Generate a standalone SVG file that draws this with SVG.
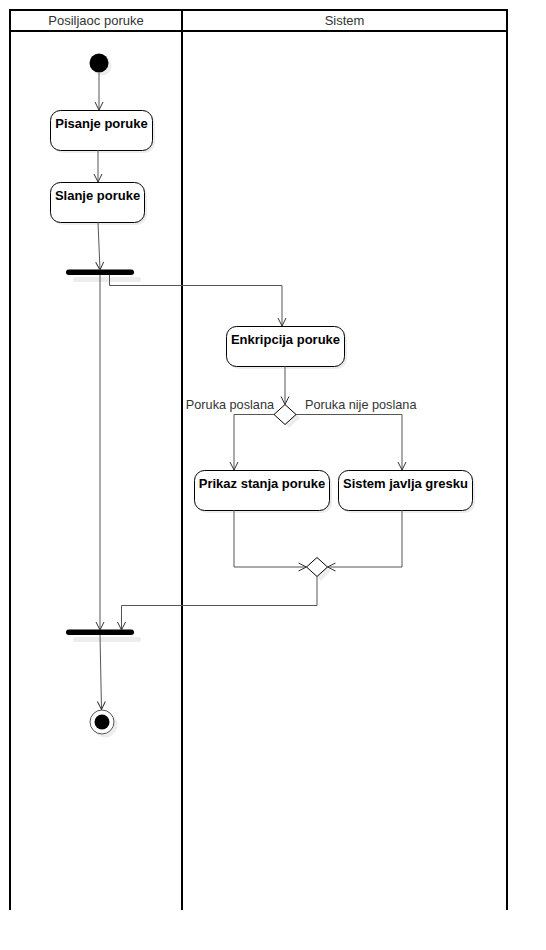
<svg xmlns="http://www.w3.org/2000/svg" width="546" height="950" viewBox="0 0 546 950">
<defs>
<marker id="open" viewBox="0 0 10 10" refX="9" refY="5" markerWidth="10" markerHeight="10" markerUnits="userSpaceOnUse" orient="auto">
<path d="M1,1 L9,5 L1,9" fill="none" stroke="#333" stroke-width="1"/>
</marker>
</defs>
<style>
.lane{stroke:#000;stroke-width:2;fill:none}
.hdr{font-family:"Liberation Sans",Arial,sans-serif;font-size:13px;fill:#333;text-anchor:middle}
.box{fill:#fff;stroke:#000;stroke-width:1}
.shadow{fill:#000;opacity:0.07}
.lbl{font-family:"Liberation Sans",Arial,sans-serif;font-size:13px;font-weight:bold;fill:#000;text-anchor:middle}
.glbl{font-family:"Liberation Sans",Arial,sans-serif;font-size:12.7px;fill:#333}
.edge{fill:none;stroke:#555;stroke-width:1}
.bar{fill:#000}
</style>
<g id="lanes">
<line class="lane" x1="9" y1="10" x2="508" y2="10"/>
<line class="lane" x1="10" y1="31" x2="507" y2="31"/>
<line class="lane" x1="10" y1="9" x2="10" y2="910"/>
<line class="lane" x1="182" y1="9" x2="182" y2="910" stroke-width="3"/>
<line class="lane" x1="507" y1="9" x2="507" y2="910"/>
<text class="hdr" x="96" y="25">Posiljaoc poruke</text>
<text class="hdr" x="344.5" y="25">Sistem</text>
</g>
<g id="start">
<circle class="shadow" cx="102" cy="66" r="9.5"/>
<circle cx="99" cy="63" r="9.5" fill="#000"/>
</g>
<g id="pisanje">
<rect class="shadow" x="53" y="113" width="102" height="40" rx="10"/>
<rect class="box" x="50.5" y="110.5" width="102" height="40" rx="10"/>
<text class="lbl" x="101.5" y="128">Pisanje poruke</text>
</g>
<g id="slanje">
<rect class="shadow" x="53" y="185" width="94" height="40" rx="10"/>
<rect class="box" x="50.5" y="182.5" width="94" height="40" rx="10"/>
<text class="lbl" x="97.5" y="200">Slanje poruke</text>
</g>
<g id="fork">
<rect class="shadow" x="73" y="277" width="68" height="5" rx="2.5"/>
<rect class="bar" x="66" y="269.5" width="68" height="5.5" rx="2.75"/>
</g>
<g id="enkripcija">
<rect class="shadow" x="229" y="329" width="118" height="40" rx="10"/>
<rect class="box" x="226.5" y="326.5" width="118" height="40" rx="10"/>
<text class="lbl" x="285.5" y="344">Enkripcija poruke</text>
</g>
<g id="decision">
<path class="shadow" d="M289,408 L300,418 L289,428 L278,418 Z"/>
<path d="M285,404.5 L296,414.5 L285,424.5 L274,414.5 Z" fill="#fff" stroke="#000" stroke-width="1"/>
</g>
<g id="prikaz">
<rect class="shadow" x="197" y="473" width="135" height="40" rx="10"/>
<rect class="box" x="194.5" y="470.5" width="135" height="40" rx="10"/>
<text class="lbl" x="262" y="488">Prikaz stanja poruke</text>
</g>
<g id="greska">
<rect class="shadow" x="341" y="473" width="134" height="40" rx="10"/>
<rect class="box" x="338.5" y="470.5" width="134" height="40" rx="10"/>
<text class="lbl" x="405.5" y="488">Sistem javlja gresku</text>
</g>
<g id="merge">
<path class="shadow" d="M321,561 L331,571 L321,581 L311,571 Z"/>
<path d="M317,557.5 L327.5,567 L317,576.5 L306.5,567 Z" fill="#fff" stroke="#000" stroke-width="1"/>
</g>
<g id="join">
<rect class="shadow" x="73" y="637" width="68" height="5" rx="2.5"/>
<rect class="bar" x="66" y="629.5" width="68" height="5.5" rx="2.75"/>
</g>
<g id="end">
<circle class="shadow" cx="105" cy="725" r="12.5"/>
<circle cx="102" cy="722" r="12" fill="#fff" stroke="#555" stroke-width="1"/>
<circle cx="102" cy="722" r="7.5" fill="#000"/>
</g>
<g id="connectors">
<line class="edge" x1="99" y1="73" x2="99" y2="110" marker-end="url(#open)"/>
<line class="edge" x1="98" y1="150" x2="98" y2="182" marker-end="url(#open)"/>
<line class="edge" x1="98" y1="222" x2="100" y2="270" marker-end="url(#open)"/>
<line class="edge" x1="100" y1="275" x2="100" y2="630" marker-end="url(#open)"/>
<polyline class="edge" points="109.5,275 109.5,285.5 282,285.5 282,326" marker-end="url(#open)"/>
<line class="edge" x1="285" y1="366" x2="285" y2="404.5" marker-end="url(#open)"/>
<polyline class="edge" points="274,414.5 234,414.5 234,470" marker-end="url(#open)"/>
<polyline class="edge" points="296,414.5 402,414.5 402,470" marker-end="url(#open)"/>
<polyline class="edge" points="234,510 234,567 306.5,567" marker-end="url(#open)"/>
<polyline class="edge" points="402,510 402,567 327.5,567" marker-end="url(#open)"/>
<polyline class="edge" points="317,576.5 317,605.5 121.5,605.5 121.5,630" marker-end="url(#open)"/>
<line class="edge" x1="100" y1="635" x2="101.5" y2="709.5" marker-end="url(#open)"/>
<text class="glbl" x="274" y="409" text-anchor="end">Poruka poslana</text>
<text class="glbl" x="305" y="409">Poruka nije poslana</text>
</g>
</svg>
